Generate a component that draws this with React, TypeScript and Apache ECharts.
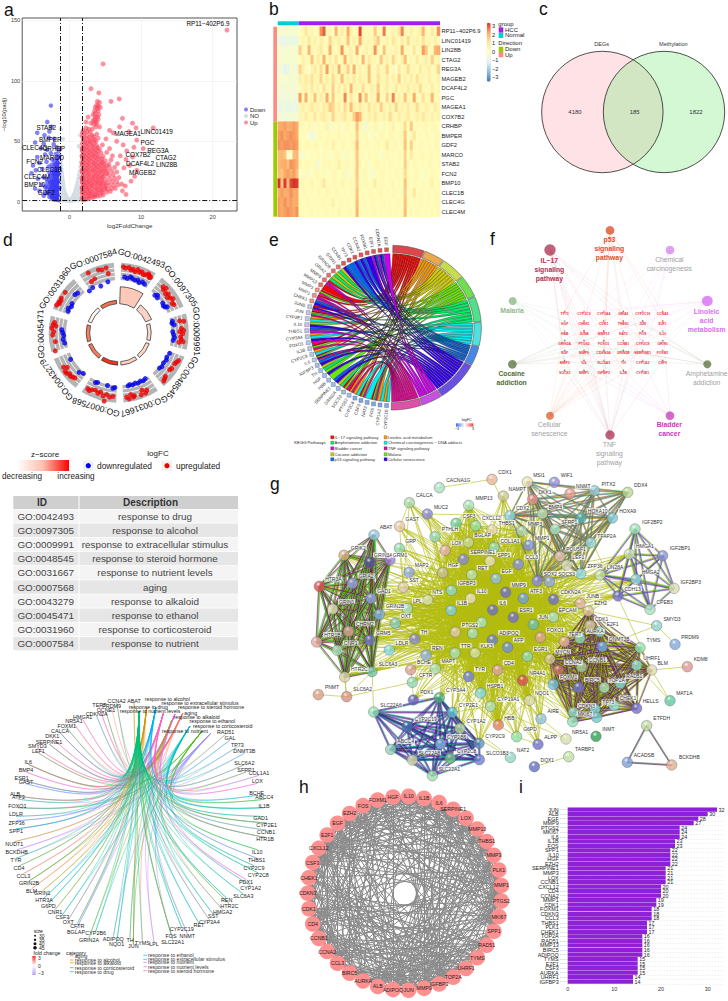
import React, { useEffect, useRef } from "react";
import * as echarts from "echarts";

const FONT = '"Liberation Sans", Arial, sans-serif';

// ---------- a: volcano ----------
const volcanoUp = [[22,142],[4.7,114],[3,93.5],[4.1,90],[3.8,80],[3.9,83],[4.2,82],[3.6,78],[4,75],[3.3,72],[4.1,72],[2.6,70],[3.5,68],[4,68],[2.3,66],[3.7,62],[4.2,62],[3.2,60],[2.7,60],[1.9,59],[2.3,61],[6.95,85],[5.8,83],[7.4,69],[8.8,65],[9.3,61],[11.7,61],[9.4,51],[10.3,44],[5.6,59],[6.1,57],[7,62],[8.3,58],[7.5,47],[8,42],[9,45],[6.6,50],[5.1,52],[7.1,38],[7.9,35],[8.8,37],[8.4,30],[9.4,26],[9.1,21],[7.6,28],[8.6,17],[7.8,13],[7.4,9],[7.9,6],
[1.9,1.5],[2.2,2],[2.5,2.4],[2.8,3],[3.2,3.4],[3.5,4],[3.9,4.6],[4.3,5],[4.7,5.6],[1.85,5.7],[2.3,6],[2.8,6.4],[3.4,6.2],[4,7],[4.6,7.6],[5.2,8],[5.7,8.6],[1.9,9],[2.4,9.4],[2.9,9],[3.5,9.6],[4.1,10],[4.7,9.8],[5.3,10.4],[5.9,10.8],[6.4,11],[1.8,12],[2.2,12.6],[2.7,12.2],[3.2,12.8],[3.8,12.4],[4.4,13],[5,12.8],[5.6,13.4],[6.2,13.6],[6.8,14],[7.3,14.6],[1.9,15],[2.4,15.6],[3,15.2],[3.6,15.8],[4.2,15.4],[4.8,16],[5.4,15.8],[6,16.4],[6.6,16.6],[1.8,18],[2.3,18.4],[2.8,18],[3.3,18.8],[3.9,18.3],[4.5,18.9],[5.1,18.5],[5.7,19],[6.3,19.4],[6.9,20],[1.9,21],[2.5,21.4],[3.1,21],[3.7,21.6],[4.3,21.2],[4.9,21.8],[5.5,22],[6.1,22.4],[1.8,24],[2.3,24.6],[2.9,24.2],[3.5,24.8],[4.1,24.4],[4.7,25],[5.3,25],[5.9,25.4],[6.6,24.6],[1.9,27],[2.5,27.6],[3.1,27.2],[3.7,27.8],[4.3,27.6],[4.9,28],[5.6,28.2],[6.3,28.4],[1.8,30],[2.4,30.4],[3,30.2],[3.6,30.8],[4.2,30.6],[4.8,31.2],[5.5,31],[6.7,31.5],[1.9,33],[2.5,33.4],[3.1,33.2],[3.7,33.8],[4.4,33.4],[5,34],[5.8,34.6],[1.8,36],[2.3,36.6],[2.9,36.2],[3.5,37],[4.1,36.8],[4.7,37.4],[6,38],[1.9,39],[2.5,39.6],[3.1,39.4],[3.7,40],[4.4,40.4],[5.2,40.8],[1.8,42],[2.4,42.6],[3,42.4],[3.6,43],[4.2,43.6],[5.6,44],[1.9,45],[2.5,45.6],[3.2,46],[3.8,46.4],[4.6,47],[1.8,48],[2.4,48.6],[3,49],[3.7,49.6],[1.9,51],[2.6,51.6],[3.3,52],[4,52.6],[1.8,54],[2.4,54.6],[3.1,55],[3.8,56],[2.1,57],[2.9,57.4],[3.4,64],[3.7,66],[3.9,70],[3.6,73],[3.9,77],[4.3,78],[1.75,3],[1.75,8],[1.75,11],[1.75,16],[1.75,20],[1.75,26],[1.75,32],[1.75,38],[1.75,44],[2,4],[2.6,4.6],[3,5],[3.6,5.5],[2.1,7.6],[2.6,8],[3.1,7.8],[3.8,8.2],[4.4,8.8],[2.1,10.6],[2.6,11],[3.2,10.8],[3.8,11],[4.4,11.4],[5,11.2],[2.1,14],[2.6,14.2],[3.2,14],[3.8,14.4],[4.4,14.6],[5,14.4],[2.1,17],[2.7,16.8],[3.3,17],[3.9,17],[4.5,17.2],[2,19.8],[2.7,20],[3.4,20.2],[4,20],[4.6,20.4],
[2.1,22.6],[2.7,22.8],[3.4,23],[4,23],[4.6,23.2],[5.2,23.4],[2.1,25.6],[2.6,26],[3.2,26],[3.8,26.2],[4.4,26],[5,26.6],[2.1,28.8],[2.7,29],[3.4,29.2],[4,29],[4.6,29.6],[5.2,29.8],[2.1,31.8],[2.7,32],[3.4,32],[4,32.2],[4.6,32.6],[2.1,34.8],[2.7,35],[3.3,35.2],[3.9,35.4],[4.5,35.6],[2.1,37.8],[2.7,38],[3.3,38.4],[3.9,38.6],[2.1,40.8],[2.8,41],[3.4,41.4],[4,41.8],[2.1,43.6],[2.7,44],[3.3,44.4],[3.9,44.8],[2.2,47],[2.8,47.4],[3.4,47.8],[2.2,50],[2.9,50.4],[3.5,51],[2.1,53],[2.8,53.4],[3.4,54],[1.8,57],[2.5,58],[3,65],[3.3,67],[3.6,70],[3.8,64.5],[3.5,75],[4,79]];
const volcanoDown = [[-2.6,79.5],[-3.1,66],[-2.5,62],[-2.8,58],[-4.5,57],[-3.5,55],[-2.1,52],[-2.9,53],[-4.8,49],[-2.2,47.5],[-3.6,48],[-3.1,43],[-4,44],[-2.6,40],[-3.4,39],[-4.5,37],[-5.1,30],[-4.2,32],[-3.2,33],[-2.4,35],[-5.3,23.5],[-4.7,26],[-3.8,27],[-2.9,29],[-4.4,19],[-3.6,20],[-4.8,11],[-4.2,9],[-3.9,14],[-3.4,12],[-3.3,7],[-3.6,5],
[-1.35,2],[-1.6,2.4],[-1.9,2.8],[-2.2,3],[-2.5,3.6],[-2.8,4],[-1.35,5],[-1.7,5.4],[-2,5.8],[-2.4,6.2],[-2.8,6.6],[-3.1,7.4],[-1.35,8],[-1.65,8.4],[-2,8.8],[-2.3,9],[-2.7,9.6],[-3.1,10],[-1.35,11],[-1.7,11.4],[-2.05,11.6],[-2.4,12],[-2.8,12.4],[-3.2,13],[-1.35,14],[-1.65,14.4],[-2,14.6],[-2.35,15],[-2.7,15.4],[-3.1,16],[-1.35,17],[-1.7,17.4],[-2.05,17.6],[-2.4,18],[-2.8,18.4],[-3.2,18.8],[-1.35,20],[-1.65,20.4],[-2,20.6],[-2.35,21],[-2.7,21.4],[-1.35,23],[-1.7,23.4],[-2.05,23.6],[-2.4,24],[-2.8,24.4],[-1.35,26],[-1.65,26.4],[-2,26.6],[-2.4,27],[-1.35,29],[-1.7,29.4],[-2.1,29.6],[-2.5,30.5],[-1.35,32],[-1.7,32.5],[-2.1,33],[-1.4,35],[-1.8,36],[-1.4,38],[-1.9,39.4],[-1.5,42],[-1.8,45],
[-1.5,1.2],[-1.8,1.6],[-2.1,1.8],[-2.4,2.2],[-1.5,3.6],[-1.8,4],[-2.1,4.4],[-2.5,5],[-1.5,6.6],[-1.85,7],[-2.2,7.4],[-2.6,7.8],[-1.5,9.6],[-1.85,10],[-2.2,10.2],[-2.6,10.8],[-1.5,12.6],[-1.85,13],[-2.2,13.2],[-2.6,13.8],[-1.5,15.6],[-1.85,16],[-2.2,16.2],[-2.55,16.8],[-1.5,18.6],[-1.85,19],[-2.2,19.2],[-1.5,21.6],[-1.85,22],[-2.2,22.4],[-1.5,24.6],[-1.85,25],[-2.2,25.4],[-1.55,27.6],[-1.9,28],[-1.5,30.6],[-1.95,31],[-1.6,33.6],[-1.6,36.6]];
const volcanoNo = [[-1.2,60],[-0.9,52],[1.5,55],[1.3,46],[-1.2,34],[-1.15,30],[-1.1,27],[-1.05,24],[-1,21],[-0.95,18],[-0.9,16],[-0.85,13.5],[-0.8,11],[-0.7,9],[-0.6,7],[-0.5,5.5],[-0.4,4],[-0.3,2.8],[-0.2,1.8],[-0.1,1],[0,0.6],[0.1,0.9],[0.2,1.6],[0.3,2.4],[0.45,3.6],[0.55,5],[0.7,7],[0.8,9],[0.9,11],[1,13.5],[1.1,16],[1.2,19],[1.3,22],[1.4,25],[1.5,29],[1.6,33],[1.7,38],[1.68,42],[-1.2,26],[-1.2,20],[-1.2,14],[-1.2,8],[-1.2,3],[-1,15],[-1,9],[-1,3],[-0.8,6],[-0.8,2],[-0.6,3],[-0.5,1],[-0.3,0.8],[0.3,0.7],[0.5,1.2],[0.7,3],[0.7,1],[0.9,5],[0.9,2],[1.1,9],[1.1,3],[1.3,13],[1.3,6],[1.3,1.5],[1.5,19],[1.5,11],[1.5,3],[1.7,28],[1.7,18],[1.7,9],[1.7,2],[-1.1,18],[-1.1,6],[-0.9,1]];
const volcanoLabels: [string, number, number][] = [["RP11−402P6.9",19.34,147.6],["STAB2",-3.24,62.1],["BMPER",-2.68,51.7],["CLEC4G",-4.86,45.6],["CRHBP",-2.17,44.7],["MARCO",-2.44,37.3],["FCN2",-4.86,33.7],["CLEC1B",-2.78,27.3],["CLEC4M",-4.53,21.3],["BMP10",-4.86,14.9],["GDF2",-3.24,8.3],["MAGEA1",8.11,56.7],["LINC01419",12.18,58.3],["PGC",10.89,49.7],["REG3A",12.36,43.1],["COX7B2",9.58,39.8],["CTAG2",13.47,37.3],["DCAF4L2",9.86,32.3],["LIN28B",13.57,31.2],["MAGEB2",10.19,24.9]];

// ---------- b: heatmap ----------
const heatGenes = ["RP11−402P6.9","LINC01419","LIN28B","CTAG2","REG3A","MAGEB2","DCAF4L2","PGC","MAGEA1","COX7B2","CRHBP","BMPER","GDF2","MARCO","STAB2","FCN2","BMP10","CLEC1B","CLEC4G","CLEC4M"];
const heatRows = [
[-.3,-.3,-.3,-.2,-.3,-.3,-.3,0,.3,1,.2,.5,0,.3,2.2,2.6,.2,.4,0,1.8,.3,.8,.2,2,.6,0,.3,2.8,.4,.2,.3,.2,1.5,.2,.3,2.4,0,.2,.5,.3,1,2.3,.3,.2,.6,.2,.2,.7,1.8,.2,.2,.9,.3,2.2],
[-.7,-.6,-.7,-.6,-.7,-.6,-.7,.2,.5,.2,1,.3,.6,.2,.7,.3,.1,1.3,.4,.3,.8,.2,.5,1.6,.2,.7,.3,2,.6,.3,.4,.3,.9,1.5,.2,.3,.6,.2,1,.5,.2,.8,.3,1.2,.2,.4,.6,.3,1.1,.3,.5,.2,.6,.3],
[-.3,-.3,-.4,-.3,-.3,-.3,-.3,1.4,.3,.1,1.8,.2,.3,.5,1,.2,.2,1.9,.3,.1,.5,2.2,.2,.3,.6,.3,2,.2,.2,.7,.2,.5,2.2,.3,.1,1.6,.2,.4,.2,.6,.2,2,.2,.3,.2,1,.2,.3,2.1,1.5,.2,.2,1.8,2],
[-.3,-.3,-.3,-.3,-.3,-.3,-.3,.1,.6,.2,.3,1.6,.2,.9,.3,1.9,.2,.7,.2,1.1,.2,.4,1.9,.2,.8,.2,.4,.2,1.8,.2,1,.5,.2,.3,1.5,.2,.7,.2,1.3,.4,.2,.6,1.7,.2,.3,.2,.9,.2,.4,.8,.2,1.4,.3,.5],
[-.5,-.4,-.9,-.7,-.3,-.4,-.5,1.3,.7,.2,-.2,.5,.9,.2,1.2,.1,2.1,.3,.8,.2,1.9,.3,.5,1.4,.2,1.9,.2,.7,.2,.4,1.6,.2,.3,.9,.2,.5,1.3,.2,.3,-.2,.9,.2,.3,1.2,.2,.5,.1,.9,.3,.4,.7,.2,.3,1.3],
[-.3,-.3,-.3,-.3,-.4,-.3,-.3,.7,.3,.9,.5,1.1,.3,.4,1.3,.2,.8,.3,1.2,.5,.2,1.7,.3,.6,.3,1,.2,.8,.4,.3,1.6,.3,.2,1.1,.5,.3,.9,.2,.6,.3,1.4,.2,.6,.3,.8,.2,1.1,.3,.5,.2,.7,.3,.2,.6],
[-.4,-.4,-.4,-.3,-.4,-.4,-.3,.2,.4,.7,.2,1,.3,.6,.2,1.1,.3,.2,1.4,.2,.7,.3,.9,.2,1.8,.3,.5,.2,1.2,.3,.2,.7,.3,1.5,.2,.4,.8,.2,.3,1,.2,.5,.3,.9,.2,.6,.2,1.2,.3,.3,.2,.8,.2,.4],
[-.5,-.4,-.5,-.5,-.4,-.5,-.4,2.1,.3,1.9,.2,.3,1.6,.2,.8,.2,2,.2,1.5,.2,.4,.2,2.3,.2,1,.2,.3,2.2,.2,1.6,.2,.5,.2,2,.3,.2,1.3,.2,2.3,.2,.6,.2,1.6,.2,.3,2,.2,.2,1.1,.2,.4,1.8,.2,.3],
[-.7,-.6,-.6,-.7,-.6,-.6,-.7,.4,.7,.3,.5,1,.4,.6,.3,.8,.5,1.5,1.3,.4,.7,.3,1.2,.5,1.7,.6,.3,.9,.4,.3,1.1,.4,.7,.3,1.4,.5,.3,.8,.3,1.3,.4,.6,.3,.9,.3,.5,1.2,.4,.3,.7,.4,.3,.8,.4],
[-.4,-.4,-.5,-.4,-.4,-.4,-.4,.5,.3,.8,.4,.3,1,.3,.6,.9,.4,.3,1.3,.5,.3,.7,1,.3,.4,1.4,2.1,1.8,.4,.3,.7,.3,1,.4,.3,.6,.3,1.2,.4,.3,.8,.3,.5,.9,.3,.4,.7,.3,1,.4,.3,.6,.3,.5],
[2,2,2.1,1.9,2,2.1,2,.2,.3,.1,.4,.2,-.2,.3,.1,.2,.5,-.4,.2,.1,.3,-.2,.2,.4,.1,.2,1.6,.2,.3,-.5,.2,.1,.4,.2,-.2,.3,.1,.2,.6,.1,.2,.3,1.2,.1,1.5,.2,.3,.1,.2,.4,.1,.2,.3,.1],
[2.1,2.2,2,2.1,2.2,2.1,2,.1,.2,.1,-.3,-.5,-.3,.2,.3,.1,.2,.3,.1,.2,.4,.1,.2,.1,.3,.2,1.4,.1,.2,.3,.1,-.3,.2,.1,.3,.2,.1,.4,.2,.1,.2,.3,1.5,.1,.2,1,.1,.2,.1,.3,.2,.1,.2,.3],
[2.2,2.1,2.2,2.2,2.1,2.2,2.1,.2,.1,.3,.2,.1,.4,.2,.1,.2,.3,.1,.7,.2,.1,.3,.2,.1,.2,.4,1.7,.2,.1,.3,.2,.1,.2,.3,.1,.2,.9,.1,.2,.3,.1,.2,1.6,.1,1.4,.2,.1,.3,.2,.1,.2,.1,.3,.2],
[1.7,1.8,1.6,-.2,-.1,1.7,1.8,-.3,-.2,.1,-.1,.2,.1,.3,-.1,.2,.1,-.2,.1,.3,.2,.1,-.3,.2,.1,.3,1.5,.1,.2,-.1,.3,.1,.2,.1,-.2,.2,.3,.1,.2,.1,.3,.2,1.3,.1,.9,.2,.1,.2,.3,.1,.2,.3,.1,.2],
[1.8,1.9,2,1.7,2.2,2.1,1.9,.2,.1,.3,.2,.1,.2,-.5,.1,.3,.2,.4,.1,.2,.7,.1,.2,.3,.1,.2,1.5,.3,.1,.2,-.3,.1,.2,.4,.1,.2,.1,.3,.2,.1,.2,.1,1.4,.2,.1,.3,.2,.1,.2,.1,.3,.2,.1,.2],
[1.7,1.6,2,2.1,1.9,2.1,1.6,-.2,.1,.2,-.3,.1,.2,.3,.1,.2,-.2,.1,.3,.2,.1,.2,.3,-.3,.1,.2,1.5,.1,.2,.3,.1,-.4,.2,.1,.3,.2,.1,.2,.1,.3,.2,.1,1.2,.2,.1,.2,.3,.1,-.2,.2,.1,.3,.2,.1],
[3,1.6,2.9,1.7,2.8,3,2.9,.2,.3,.1,.2,.4,.1,.2,.3,1,.2,.1,.3,.2,.1,.4,.2,.1,.3,.2,1.4,.1,.2,.3,.1,.2,.8,.1,.3,.2,.1,.2,.3,.1,.2,.1,1.6,.2,.1,.3,.2,.1,.2,.1,.3,.6,.1,.2],
[2,2.1,1.9,2,2.2,2,2,.1,.2,.3,.1,.2,.1,.3,.2,.1,.5,.2,.1,.3,.2,.1,.2,.1,.3,.2,1.6,.1,.2,.1,.3,.2,.1,.2,.4,.1,.2,.1,.3,.2,.1,.2,1.5,.1,.2,1,.1,.3,.2,.1,.2,.1,.3,.2],
[2.1,2,2.2,2,2.1,1.9,2,.2,.1,.2,.3,.1,.2,.1,.2,.3,.1,.2,.6,.1,.2,.3,.1,.2,.1,.3,1.7,.2,.1,.2,.1,.3,.2,.1,.2,.3,.1,.2,.1,.2,.3,.1,1.6,.2,.1,.2,.1,.3,.2,.1,.2,.1,.2,.3],
[2.1,2,2.1,2.2,2.1,2,2.2,.1,.2,.1,.2,.3,.1,.2,.1,.2,.3,.1,.2,.1,.5,.2,.1,.2,.3,.1,1.8,.2,.1,.2,.1,.2,.3,.1,.2,.1,.2,.3,.1,.2,.1,.2,1.7,.1,.2,.1,.3,.2,.1,.2,.1,.2,.1,.3]];
const heatColumnCount = 54;
const groupCounts = [["Normal", 7, "#00CED1"], ["HCC", 47, "#A020F0"]] as const;
const directionCounts = [["Up", 10, "#FF8C80"], ["Down", 10, "#9ACD00"]] as const;
const heatPalette = ["#4575B4","#91BFDB","#E0F3F8","#FFFFBF","#FEE8A0","#FBAA68","#D73027"];
const heatTicks = [3,2,1,0,-1,-2,-3];

// ---------- c: venn ----------
const vennSets = [["DEGs",217,336,"rgba(255,182,193,0.5)"],["Methylation",402,336,"rgba(144,238,144,0.5)"]] as const;
const vennCounts = [["4180",575],["185",634.7],["1822",696]] as const;

// ---------- d: GO circle ----------
const goIds = ["GO:0042493","GO:0097305","GO:0009991","GO:0048545","GO:0031667","GO:0007568","GO:0043279","GO:0045471","GO:0031960","GO:0007584"];
const goDescriptions = ["response to drug","response to alcohol","response to extracellular stimulus","response to steroid hormone","response to nutrient levels","aging","response to alkaloid","response to ethanol","response to corticosteroid","response to nutrient"];
const goBarTop = [46,35.5,32.5,32.5,32.5,32.5,32.5,32.5,32.5,32.5];
const goBarColor = ["#FCC9B8","#FBD3C6","#FCD9CE","#FCD7CB","#FCD2C3","#F0351F","#F47A5C","#F5825F","#FFF4F0","#F2734F"];
const goUp = [[65,6],[66,9],[64,11],[65,13],[63,15],[66,17],[64,19],[65,21],[63,23],[64,25],[66,27],[65,28],[63,29],[64,30],[66,4],
[64,44],[62,46],[65,47],[61,50],[63,52],[60,54],[62,56],[64,58],[61,61],[62,63],
[62,79],[66,80],[63,86],[65,88],[61,89],[64,91],[62,94],[63,96],[65,98],[61,99],
[66,115],[65,117],[64,119],[64,124],[63,126],[65,135],[66,137],[64,133],
[64,154],[66,156],[62,158],[66,160],[65,166],[66,167],[63,169],[67,171],[65,173],
[64,185],[65,188],[63,191],[70,192],[65,194],[62,197],[64,199],[62,202],[63,205],[65,207],[64,209],
[66,232],[63,224],[64,226],[65,228],[64,230],[66,234],[62,236],[65,238],
[66,277],[67,274],[65,271],[66,268],[64,262],[66,254],[65,279],[63,276],
[67,307],[68,294],[67,297],[66,299],[67,301],[66,296],
[67,333],[66,349],[58,332],[66,342],[65,345],[59,336],[60,350]];
const goDown = [[56,6],[55,9],[57,12],[56,14],[55,17],[56,20],[54,22],[56,25],[55,28],
[52,44],[54,46],[52,48],[53,56],[52,59],[53,61],[55,62],
[54,80],[55,78],[56,82],[55,92],[54,89],[56,95],[55,98],
[55,112],[54,117],[55,120],[54,124],[55,128],[54,131],
[53,150],[54,153],[53,156],[54,159],[53,162],[54,165],[53,168],[54,170],
[55,184],[54,192],[56,186],[54,203],[55,205],
[55,241],[56,225],[54,221],
[56,270],[55,267],[56,263],[55,259],[57,273],
[58,311],[55,293],[56,296],[54,299],[55,302],[57,314],
[51,325],[52,348],[50,339],[52,330]];

// ---------- e: chord ----------
const pathways = ["IL−17 signaling pathway","Linoleic acid metabolism","Cocaine addiction","Malaria","Amphetamine addiction","Chemical carcinogenesis − DNA adducts","p53 signaling pathway","Cellular senescence","Bladder cancer","TNF signaling pathway"];
const pathwayFill = ["#FF0000","#FF9900","#CCCC00","#66EE00","#00EE66","#00EEEE","#0066EE","#3300EE","#CC00EE","#EE0099"];
const pathwayRing = ["#E0454C","#E8A94E","#C8DC50","#6EE050","#50E08C","#50E0E0","#4A86E8","#6A50E0","#C850E0","#E050A8"];
const pathwayEnds = [21.3,35,51.6,67.4,85.8,103,117,145.9,160,180];
const chordGenes: [string, number[]][] = [["EGF",[8]],["CDKN2A",[6,7,8]],["E2F1",[6,7,8]],["FOXM1",[7]],["CCNA2",[6,7]],["CDK1",[6,7]],["TP73",[6]],["CCNB1",[6,7]],["GRIN1",[2,4]],["GRIN2B",[2,4]],["GRIA2",[2,4]],["MMP9",[0,8,9]],["MMP13",[0]],["MMP3",[0,3,9]],["MMP1",[0,8,9]],["CHEK1",[6,7]],["JUNB",[0,9,7]],["JUN",[0,2,4,9]],["CYP2E1",[1,5]],["IL10",[3,7]],["THBS1",[6,8]],["CYP3A4",[1,5]],["FOXO1",[9,7]],["IL1B",[0,3,9]],["CYP2C9",[1,5]],["IL6",[0,7,3,9]],["IGFBP3",[6,7]],["TH",[2,4]],["HGF",[3,7]],["HBB",[3]],["SERPINE1",[6,7]],["GRIN2A",[2,4]],["SOCS3",[0,3,9]],["PTGS2",[0,1,9]],["CYP2C8",[1,5]],["CSF3",[0,3,9]],["NAT2",[5]],["FOS",[0,2,4,9]],["CYP1A2",[1,5]],["CYP2C19",[1,5]]];
const chordGeneFC = [3,3,2.8,2.8,2.7,2.7,2.6,2.6,2.5,2.5,2.4,2.3,2.2,2,1.8,1.6,-1,-1,-1.1,-1.1,-1.2,-1.2,-1.3,-1.3,-1.4,-1.4,-1.5,-1.5,-1.6,-1.6,-1.7,-1.7,-1.8,-1.8,-1.9,-2,-2,-2.1,-2.2,-2.3];

// ---------- f: gene–pathway network ----------
const fGeneRows = [["TP73","CYP2C9","CYP3A4","GRIA2","CYP2C19","CCNA2"],["HGF","CHEK1","CDK1","THBS1","JUN","E2F1"],["HBB","JUNB","MMP13","NAT2","FOS","IL10"],["GRIN2A","PTGS2","FOXO1","CCNB1","CYP2C8","GRIN1"],["EGF","MMP9","CDKN2A","GRIN2B","SERPINE1","FOXM1"],["MMP3","IL6","SLC6A3","TH","CYP1A2","CSF3"],["SOCS3","MMP1","IGFBP3","IL1B","CYP2E1"]];
const fGeneX = [914,972,1031,1090,1148,1208];
const fGeneY = [268,297,327,356,385,415,445];
const fNodes: [string[], number, number, number, string, string, boolean, number, number][] = [
[["IL−17","signaling","pathway"],870,75,17,"#B03A5B","#B0304F",true,105,0],
[["Linoleic","acid","metabolism"],1342,228,16,"#D66EF0","#D96BF5",true,259,1],
[["Cocaine","addiction"],757,418,13,"#5F7745","#4F6B33",true,446,2],
[["Malaria"],758,228,12,"#8FB887","#8FB887",true,256,3],
[["Amphetamine","addiction"],1342,418,12,"#5F7745","#A0A0A0",false,446,4],
[["Chemical","carcinogenesis"],1230,75,13,"#D88AEE","#A0A0A0",false,102,5],
[["p53","signaling","pathway"],1050,16,13,"#DD5528","#E8461E",true,43,6],
[["Cellular","senescence"],870,572,12,"#DD6633","#A0A0A0",false,599,7],
[["Bladder","cancer"],1230,572,13,"#CC44BB","#D030C0",true,599,8],
[["TNF","signaling","pathway"],1050,630,14,"#B03A5B","#A0A0A0",false,657,9]];

// ---------- g: STRING network ----------
const gNodes: [string, number, number, string, number, number][] = [
["CDX1",636,28,"#E8B89A",675,6],["CACNA1G",478,53,"#A8E0C0",535,31],["MSI1",742,36,"#E8E4B0",777,15],["WIF1",823,37,"#9090D8",860,15],["NAMPT",670,78,"#C8C890",712,57],["DKK1",758,88,"#E89090",795,66],["NNMT",870,71,"#E89888",910,49],["PITX2",943,62,"#90C8D8",985,41],["DDX4",1043,67,"#B8D890",1082,45],["CALCA",388,98,"#A8D8A8",433,76],["MUC2",442,132,"#8888D0",483,110],["MMP13",566,106,"#A8E0B8",612,85],["CDX2",690,137,"#90D8D8",728,114],["BMP4",787,131,"#B8E0A8",826,110],["HOXA10",903,144,"#50B0B0",953,122],["HOXA9",997,144,"#80C8D8",1043,122],["IGF2BP2",1065,177,"#98E0B8",1117,155],["ABAT",282,195,"#90C8D8",318,172],["GAST",359,169,"#E8C8A8",397,147],["CSF3",528,160,"#70D0A0",567,137],["CXCL12",587,167,"#98E0A8",634,145],["THBS1",636,180,"#E8D8B0",680,158],["MMP3",725,183,"#A8D0B8",765,161],["SFRP1",825,178,"#A8E0C0",868,156],["PTHLH",465,200,"#90D8B0",510,178],["BGLAP",565,217,"#C8D890",608,196],["COL1A1",642,232,"#90D8C8",690,212],["MMP1",746,226,"#8090E0",787,204],["TFAP2A",932,218,"#90D8E0",980,197],["POU5F1",840,259,"#E8C0B0",888,237],["LEF1",860,285,"#D8D8B0",895,262],["GRP",358,235,"#90D8A8",392,213],["LOX",495,241,"#E8B0B0",530,219],["GRIK2",192,256,"#D8B080",235,233],["GRIN3A",269,277,"#5050A0",310,255],["GRM1",330,270,"#A080E0",360,255],["SERPINE1",550,268,"#8888D8",608,247],["SPP1",630,273,"#E8E0B8",672,254],["HMGA1",1048,252,"#C8E0A8",1095,229],["IGF2BP1",1148,257,"#8890D8",1200,235],["CCL3",715,283,"#8890E0",755,261],["MAP2",387,307,"#90A8E0",425,285],["HGF",488,308,"#C8C090",520,286],["RET",575,314,"#B8E0B0",608,293],["SOX2",772,333,"#8888E0",811,311],["SOCS3",808,335,"#90A8E0",860,311],["ZFP36",902,311,"#90D8E0",945,288],["LIN28A",960,315,"#C8E0B0",1005,291],["HMGA2",1068,328,"#90D8E0",1112,306],["IGF2BP3",1182,355,"#D8E0B0",1232,335],["EGF",648,326,"#90C0E0",680,304],["GRIA2",217,340,"#90A0E0",258,318],["HTR3A",118,349,"#E05050",160,327],["SST",370,352,"#E0C8A8",402,331],["IGFBP3",514,361,"#90D8C8",560,339],["MMP9",677,367,"#7070D0",716,344],["ATF3",730,385,"#70A0E0",768,363],["CDKN2A",821,388,"#7070D0",872,367],["JUNB",900,400,"#E0B0A0",938,379],["GAD1",273,385,"#90A0E0",312,363],["NTS",443,390,"#D8E0B0",472,367],["LPL",382,416,"#A8E0C0",412,392],["IL10",572,385,"#E8E0B8",605,364],["IL1B",513,421,"#80D0E0",546,399],["IL6",638,420,"#7070C0",668,398],["ESR1",700,442,"#7070C8",738,420],["CDH13",1014,378,"#7070D0",1058,356],["CPEB3",1110,418,"#A8E0C0",1154,397],["EZH2",925,423,"#E0C8A0",962,400],["EPCAM",820,441,"#A8E0C0",863,420],["GRIN1",158,417,"#E0E0B0",200,395],["GRIN2B",298,433,"#80B0E0",345,409],["OXT",346,460,"#80C8B8",378,438],["CHRM2",206,484,"#D8A090",255,461],["PTGS2",526,486,"#E0C8A8",570,465],["FOS",605,457,"#A8E0C0",0,0],["SLPI",578,490,"#A8E0B8",0,0],["JUN",760,463,"#70C0B0",790,441],["CDK1",930,466,"#D8C8A0",965,447],["E2F1",960,485,"#90D0C0",998,463],["SMYD3",1130,467,"#90D0D0",1176,446],["PRDM9",1185,523,"#80A8E0",1230,502],["GRM5",269,510,"#7070C8",310,489],["HTR1B",110,516,"#E8A8A0",157,494],["CNR1",172,541,"#A8E0B8",212,519],["TH",404,507,"#8888D0",432,486],["LDLR",328,540,"#80D8E0",366,518],["ADIPOQ",637,510,"#7080D0",687,488],["AFP",683,532,"#7090E0",716,510],["FOXO1",781,502,"#E0A090",826,480],["TERT",853,515,"#E8B0A0",885,492],["AURKA",900,505,"#90D8C0",945,484],["DNMT3B",967,530,"#70A8E0",1018,507],["TYMS",1080,533,"#90E0B0",1120,511],["REN",438,555,"#90B0E0",472,533],["TTR",525,549,"#A8E0B8",557,527],["KLK3",585,549,"#D0E0A0",620,527],["EGR1",742,559,"#90D8B0",782,537],["MYCN",810,567,"#D8C890",848,545],["UHRF1",1070,586,"#90E0D0",1115,564],["BLM",1115,600,"#E0E0A0",1148,578],["KDM8",1222,590,"#E09898",1262,568],["SLC6A3",276,605,"#70C0A0",324,583],["HTR2C",194,621,"#D8D0A0",238,598],["BCHE",392,599,"#D8A090",432,577],["MAPT",466,596,"#A8E0B8",505,574],["CD4",653,600,"#E0A0A0",686,578],["CCNB1",905,591,"#A8D0A0",952,570],["CCNA2",835,600,"#D07060",880,577],["TYR",566,620,"#7080E0",600,598],["CFTR",397,637,"#90D8B0",437,615],["NR4A1",728,631,"#D85050",772,609],["FOXM1",820,643,"#70C0E0",866,621],["BIRC5",895,652,"#7070D0",937,629],["TOP2A",973,653,"#A8E0B0",1010,631],["RAD51",1021,640,"#80D8D0",1063,619],["PNMT",115,674,"#D8A080",156,652],["SLC6A2",200,680,"#D89080",248,657],["PDX1",400,690,"#6060C0",440,667],["CYP3A4",478,683,"#50B080",527,661],["HSPB1",602,669,"#80D8E0",645,647],["MAT1A",1170,692,"#60C8A0",1213,670],["NQO1",748,691,"#D8D8A8",786,669],["CYP19A1",632,709,"#A8E0B0",685,688],["CYP2E1",517,727,"#60C0D0",565,704],["CDKN3",880,727,"#90D8C8",920,707],["TP73",945,718,"#80D8E0",985,696],["CHEK1",1002,707,"#90E0D0",1044,684],["HELLS",1070,715,"#7070D0",1112,693],["PLK1",950,742,"#70C8D0",0,0],["SLC22A6",281,726,"#90E0B0",333,704],["AIRE",783,746,"#90C0E0",820,724],["MKI67",878,755,"#90E0B8",915,732],["CYP2C19",381,769,"#4070B0",437,747],["HBB",655,765,"#E08060",688,743],["CYP1A2",540,775,"#B0D890",588,753],["G6PD",710,800,"#90E0A0",750,778],["ETFDH",1100,767,"#C0D8A0",1145,745],["INMT",948,799,"#30A050",985,777],["NR5A1",858,807,"#D8E0B0",900,785],["ALPP",774,823,"#7070D0",812,801],["CYP2C9",597,820,"#6090C0",645,798],["CYP2B6",482,822,"#80B0E0",530,800],["ABCC4",332,838,"#90D0B8",377,814],["NAT2",691,862,"#90D8C8",729,839],["TARBP1",866,860,"#C0E0A0",914,838],["DQX1",763,890,"#6070C0",802,869],["SLC22A8",397,870,"#D8D8A8",448,848],["CYP2C8",511,865,"#70C080",560,844],["SLCO1B3",598,869,"#7080D0",652,848],["ACADSB",1042,877,"#80A0D8",1092,856],["BCKDHB",1175,885,"#D8B090",1228,861],["SLC22A1",457,917,"#A0E0B0",508,896]];
const gCentralModule = ["IL6","IL10","IL1B","JUN","EGF","ESR1","MMP9","HGF","PTGS2","FOXO1","ADIPOQ","TTR","CD4","EGR1","MMP3","MMP1","SERPINE1","CCL3","IGFBP3","SPP1","THBS1","BGLAP","COL1A1","CXCL12","CSF3","CDKN2A","MAPT","HSPB1","TYR","AFP","EPCAM","ATF3","NR4A1","LPL","MYCN","NQO1","LOX","SLPI","FOS","RET","TH","MMP13","HBB"];
const gHubs = ["IL6","JUN","EGF","ESR1","PTGS2","MMP9","IL1B","CDKN2A","FOXO1","TTR"];
const gHubTargets = ["GRIK2","GRIN1","GRIA2","GRIN2B","GRM5","CHRM2","HTR1B","HTR3A","CNR1","GAD1","SLC6A3","HTR2C","SST","GRP","GAST","CALCA","PTHLH","MUC2","MAP2","OXT","LDLR","REN","BCHE","CFTR","NTS","PDX1","CYP3A4","CYP2E1","CYP1A2","CYP2C9","CYP19A1","G6PD","AIRE","ALPP","CDK1","AURKA","CCNB1","CCNA2","FOXM1","BIRC5","TOP2A","RAD51","CHEK1","TP73","BLM","MKI67","DNMT3B","EZH2","E2F1","TYMS","CDKN3","TERT","SFRP1","DKK1","BMP4","SOX2","POU5F1","LEF1","ZFP36","SOCS3","JUNB","LIN28A","HMGA1","HMGA2","CDH13","NAMPT","CDX2","TFAP2A","HOXA9"];
const gCycleModule = ["CDK1","AURKA","CCNB1","CCNA2","FOXM1","BIRC5","TOP2A","RAD51","CHEK1","TP73","UHRF1","BLM","HELLS","PLK1","MKI67","DNMT3B","EZH2","E2F1","MYCN","TYMS","CDKN3","TERT"];
const gNeuroModule = ["GRIK2","GRIN3A","GRIA2","GRIN1","GRIN2B","GRM5","CHRM2","HTR1B","HTR3A","CNR1","GAD1","SLC6A3","HTR2C","ABAT","GRM1"];
const gCypModule = ["CYP2C19","CYP2E1","CYP1A2","CYP2B6","CYP2C9","CYP2C8","ABCC4","SLC22A8","SLC22A1","SLC22A6","SLCO1B3","CYP3A4"];
const gStemModule = ["IGF2BP1","IGF2BP2","IGF2BP3","HMGA1","HMGA2","LIN28A","CPEB3","CDH13"];
const gHomeoModule = ["HOXA9","HOXA10","CDX2","PITX2","TFAP2A","SOX2","POU5F1","LEF1","SFRP1","DKK1","BMP4","ZFP36","DDX4","MSI1"];
const gTriangleModule = ["ETFDH","ACADSB","BCKDHB"];
const gBridgeEdges = ["CDX1-CACNA1G","CALCA-GAST","CALCA-SST","MUC2-CDX2","KDM8-BLM","PNMT-SLC6A2","PRDM9-SMYD3","SMYD3-EZH2","SMYD3-DNMT3B","MAT1A-BLM","MAT1A-UHRF1","DQX1-TARBP1","NAT2-CYP1A2","NAT2-CYP2E1","NR5A1-AIRE","NR5A1-CYP19A1","ALPP-G6PD","SLC6A2-SLC6A3","SLC6A2-HTR2C","PDX1-CFTR","PDX1-CYP3A4","BCHE-MAPT","BCHE-CFTR","CFTR-TTR","OXT-CHRM2","OXT-TH","LDLR-ADIPOQ","LDLR-TH","SST-GAD1","GAST-SST","GRP-SST","MAP2-MAPT","MAP2-GRIN1","NAMPT-MMP3","NAMPT-IL6","CDX1-CDX2","WIF1-DKK1","NNMT-BLM","MSI1-CDX2","DKK1-THBS1","BMP4-CDKN2A","PTHLH-BGLAP","CYP19A1-ESR1","HBB-G6PD","HBB-MAPT","JUNB-JUN","JUNB-CDK1","EPCAM-LIN28A","EPCAM-SOX2","CDKN2A-CDK1","CDKN2A-E2F1","EZH2-CDKN2A","EZH2-HMGA2","CCNB1-CDKN2A","AIRE-CD4","KLK3-CYP3A4","CYP2E1-CYP19A1","SLC6A2-CFTR","SLC6A3-SLC22A6","HTR2C-SLC6A2","SLC22A6-CYP2C19"];
const gStrands = [["#B4BC10"],["#8B1A9B","#333333","#9AC400"],["#A020A0","#1A1A1A","#B8C800","#20A040"],["#2020D0","#A020A0","#111111","#20B0B0"],["#A020C0","#2040D0","#30A050","#B0C000"],["#B4BC10","#A020A0","#30A060"],["#20A040","#A020A0","#222222"]];

// ---------- h & i: hub genes ----------
const hCycleModule = ["PLK1","MKI67","RAD51","TYMS","UHRF1","TOP2A","AURKA","BIRC5","CCNA2","CCNB1","CDK1","CDKN3","CHEK1","E2F1","EZH2","FOXM1"];
const hImmuneModule = ["MMP1","PTGS2","SPP1","IGFBP3","MMP9","JUN","ADIPOQ","ALB","CCL3","CD4","CSF3","CXCL12","EGF","FOS","HGF","IL10","IL1B","IL6","SERPINE1","LOX","MMP13","THBS1","MMP3"];
const hOrder = ["PTGS2","MKI67","SPP1","RAD51","TYMS","UHRF1","TOP2A","IGFBP3","MMP9","JUN","ADIPOQ","ALB","AURKA","BIRC5","CCL3","CCNA2","CCNB1","CD4","CDK1","CDKN3","CHEK1","CSF3","CXCL12","E2F1","EGF","EZH2","FOS","FOXM1","HGF","IL10","IL1B","IL6","SERPINE1","LOX","MMP13","THBS1","MMP3","PLK1","MMP1"];
const hBridge = [["JUN","CDK1"],["JUN","E2F1"],["ALB","CCNB1"],["EGF","AURKA"],["EGF","CDK1"],["MMP9","CCNA2"],["MKI67","IL6"],["CD4","CCNB1"],["EZH2","JUN"],["PTGS2","CDK1"],["ALB","TOP2A"],["SPP1","TOP2A"],["IL10","CHEK1"],["MMP1","RAD51"],["EGF","FOXM1"],["FOS","CCNA2"],["IGFBP3","UHRF1"],["ALB","PLK1"],["JUN","TYMS"],["PTGS2","EZH2"]];
const barGenes = ["JUN","ALB","EGF","MMP9","PTGS2","MKI67","IL6","IL1B","FOS","SPP1","IL10","HGF","EZH2","SERPINE1","MMP3","LOX","CCNB1","CXCL12","CD4","CCNA2","MMP1","CDK1","FOXM1","CDKN3","CCL3","THBS1","PLK1","CHEK1","TOP2A","RAD51","MMP13","BIRC5","ADIPOQ","TYMS","E2F1","CSF3","AURKA","UHRF1","IGFBP3"];
const barValues = [32,30,28,27,24,24,24,23,23,22,22,22,22,21,21,21,21,20,20,20,19,19,18,18,18,17,17,17,16,16,16,16,16,15,15,15,15,14,14];

// ---------- bottom-left: GO term network ----------
const termNames = ["aging","response to alcohol","response to alkaloid","response to corticosteroid","response to drug","response to ethanol","response to extracellular stimulus","response to nutrient","response to nutrient levels","response to steroid hormone"];
const termColors = ["#F8766D","#D89000","#A3A500","#39B600","#00BF7D","#00BFC4","#00B0F6","#9590FF","#E76BF3","#FF62BC"];
const termAnchors = [[548,190],[440,172],[515,212],[605,245],[418,185],[570,228],[468,172],[632,250],[525,192],[490,190]];
const termLabels: [number, number, number][] = [[572,190,0],[502,148,1],[590,202,2],[668,228,3],[445,171,4],[637,214,5],[600,159,6],[555,243,7],[450,184,8],[633,172,9]];
const netGenes: [string, number, number, number[]][] = [["CCNA2",350,153,[0,4]],["ABAT",402,153,[2,1]],["TERT",298,166,[0,9]],["PRDM9",335,168,[0]],["CCNE1",318,180,[0,4]],["CDKN2A",290,192,[0,6]],["HMGA1",248,202,[0,8]],["NR5A1",222,214,[0,9]],["FOXM1",200,227,[0,4]],["CALCA",180,242,[0,9,6]],["DKK1",157,259,[0,8]],["SERPINE1",147,276,[0,9,4]],["SMYD3",112,289,[0,8]],["LEF1",115,303,[9,3]],["IL6",85,337,[3,4,9,0]],["BMP4",78,360,[9,8]],["ESR1",65,383,[9,8,4]],["GAST",78,395,[8,6]],["ALB",45,431,[9,4,0]],["ATF3",55,442,[7,4]],["FOXO1",52,467,[3,9,5]],["LDLR",48,493,[7,4]],["ZFP36",50,518,[8,6]],["SPP1",48,543,[8,4,6]],["NUDT1",43,581,[2,0]],["BCKDHB",50,606,[7,8]],["TYR",48,631,[7,4]],["CD4",57,654,[1,4]],["CCL3",70,677,[1,9]],["GRIN2B",87,699,[1,2,4]],["BLM",95,722,[1,0]],["GRIN1",127,729,[1,2]],["HTR3A",132,750,[6,5]],["G6PD",145,767,[6,4]],["CNR1",165,785,[4,1]],["CSF3",187,801,[5,4]],["OXT",205,815,[4,9]],["CFTR",232,827,[1,4]],["BGLAP",228,845,[6,8]],["CYP2B6",287,850,[4,5]],["GRIN2A",267,869,[2,4]],["ADIPOQ",340,866,[7,4]],["NQO1",350,882,[6,4]],["TH",390,869,[2,5]],["JUN",400,889,[3,4,1]],["TYMS",427,878,[0,4]],["LPL",462,882,[7,8]],["SLC22A1",518,875,[4,7]],["FOS",513,857,[4,1]],["NNMT",562,857,[4,8]],["CYP2C19",545,838,[4,5]],["RET",597,826,[4,6]],["CYP3A4",628,815,[4,9]],["SST",640,799,[4,5]],["HMGA2",668,785,[4,0]],["HTR2C",688,768,[4,2]],["REN",680,750,[6,4]],["SLC6A3",730,738,[4,5]],["CYP1A2",752,713,[7,4]],["PDX1",738,695,[8,9]],["CYP2C8",775,675,[5,4]],["CYP2C9",762,653,[5,4]],["THBS1",770,630,[9,6]],["IL10",772,605,[3,4]],["HTR1B",795,568,[3,4,9]],["CCNB1",798,546,[8,4]],["CYP2E1",800,525,[5,4,1]],["GAD1",782,505,[4,5]],["IL1B",792,467,[6,5,4]],["ABCC4",793,442,[4,3]],["BCHE",770,430,[5,6]],["LOX",772,394,[9,8]],["COL1A1",777,370,[9,7]],["SFRP1",738,360,[8,3]],["SLC6A2",733,338,[9,4]],["DNMT3B",733,304,[4,7]],["TP73",712,284,[4,7]],["GAL",690,264,[7,5]],["RAD51",677,247,[2,7]]];

// ---------- helpers ----------
const T = (x: number, y: number, text: string, fontSize: number, o: any = {}) => ({
  type: "text", x, y, z: o.z ?? 100, silent: true, rotation: ((o.rot || 0) * Math.PI) / 180,
  style: { text, fontSize, fontFamily: FONT, fill: o.c || "#222", fontWeight: o.w || "normal", align: o.a || "left", textAlign: o.a || "left", verticalAlign: "middle", textVerticalAlign: "middle", backgroundColor: o.bg, padding: o.bg ? [0, 1] : undefined },
});
const R = (x: number, y: number, width: number, height: number, fill: any, o: any = {}) => ({
  type: "rect", z: o.z ?? 99, silent: true, shape: { x, y, width, height }, style: { fill, stroke: o.stroke, lineWidth: o.lw ?? 1 },
});
const hGrad = (stops: string[]) => new echarts.graphic.LinearGradient(0, 0, 1, 0, stops.map((color, i) => ({ offset: i / (stops.length - 1), color })));
const vGrad = (stops: string[]) => new echarts.graphic.LinearGradient(0, 0, 0, 1, stops.map((color, i) => ({ offset: i / (stops.length - 1), color })));

function pairs(list: string[]) {
  const out: [string, string][] = [];
  list.forEach((a, i) => list.slice(i + 1).forEach((b) => out.push([a, b])));
  return out;
}

function buildOption() {
  const grids: any[] = [], xAxis: any[] = [], yAxis: any[] = [], series: any[] = [], g: any[] = [];
  const local = (left: number, top: number, w: number, h: number) => {
    const i = grids.length;
    grids.push({ left, top, width: w, height: h, show: false });
    xAxis.push({ gridIndex: i, type: "value", min: 0, max: w * 3, show: false });
    yAxis.push({ gridIndex: i, type: "value", min: 0, max: h * 3, inverse: true, show: false });
    return i;
  };

  // panel letters
  ([["a",4,10],["b",269,9],["c",539,9],["d",3,240],["e",269,240],["f",490,239],["g",270,484],["h",299,787],["i",519,787]] as [string,number,number][]).forEach(([t,x,y]) => g.push(T(x,y,t,17.5,{c:"#111"})));

  // a — volcano
  grids.push({ left: 20.7, top: 18, width: 216.3, height: 193, show: true, borderColor: "#555", borderWidth: 1, backgroundColor: "#fff" });
  xAxis.push({ gridIndex: 0, type: "value", min: -6.6, max: 23.4, name: "log2FoldChange", nameLocation: "middle", nameGap: 11, nameTextStyle: { fontSize: 6.2, fontFamily: FONT, color: "#333" }, axisLine: { show: false }, axisTick: { show: false, customValues: [0, 10, 20] }, axisLabel: { customValues: [0, 10, 20], fontSize: 5.6, fontFamily: FONT, color: "#444", margin: 3 }, splitLine: { lineStyle: { color: "#EEE", width: 0.6 } } });
  yAxis.push({ gridIndex: 0, type: "value", min: -7.7, max: 152, name: "−log10(padj)", nameLocation: "middle", nameGap: 14, nameTextStyle: { fontSize: 6, fontFamily: FONT, color: "#333" }, axisLine: { show: false }, axisTick: { show: false, customValues: [0, 50, 100, 150] }, axisLabel: { customValues: [0, 50, 100, 150], fontSize: 5.6, fontFamily: FONT, color: "#444", margin: 2 }, splitLine: { lineStyle: { color: "#EEE", width: 0.6 } } });
  const sc = (name: string, data: number[][], color: string, op: number, size: number) => ({ type: "scatter", name, xAxisIndex: 0, yAxisIndex: 0, data, symbolSize: size, itemStyle: { color, opacity: op }, silent: true });
  series.push(sc("Down", volcanoDown, "#3434F4", 0.62, 4.6), sc("NO", volcanoNo, "#D3DCE3", 0.95, 4.2), sc("Up", volcanoUp, "#FB3F5A", 0.58, 4.9));
  series.push({ type: "scatter", xAxisIndex: 0, yAxisIndex: 0, symbolSize: 0, data: volcanoLabels.map((l) => ({ value: [l[1], l[2]], label: { show: true, formatter: l[0] } })), label: { position: "top", distance: -3.5, fontSize: 6.4, fontFamily: FONT, color: "#000", opacity: 1 }, silent: true, z: 6,
    markLine: { silent: true, symbol: "none", label: { show: false }, lineStyle: { color: "#000", type: [5, 2, 1, 2], width: 0.9 }, data: [{ xAxis: -1.25 }, { xAxis: 1.75 }, { yAxis: 1.3 }] } });

  // b — heatmap
  const hi = grids.length;
  grids.push({ left: 277.7, top: 26.7, width: 162.3, height: 190, show: false });
  xAxis.push({ gridIndex: hi, type: "category", data: Array.from({ length: heatColumnCount }, (_, i) => String(i)), show: false });
  yAxis.push({ gridIndex: hi, type: "category", data: heatGenes, inverse: true, position: "right", axisLine: { show: false }, axisTick: { show: false }, axisLabel: { fontSize: 5.8, fontFamily: FONT, color: "#222", margin: 1.5 } });
  const heatIdx = series.length;
  series.push({ type: "heatmap", xAxisIndex: hi, yAxisIndex: hi, progressive: 0, silent: true, data: heatRows.flatMap((row, r) => row.map((v, c) => [c, r, v])) });
  const ti = grids.length;
  grids.push({ left: 277.7, top: 21.3, width: 162.3, height: 4, show: false });
  xAxis.push({ gridIndex: ti, type: "value", min: 0, max: heatColumnCount, show: false });
  yAxis.push({ gridIndex: ti, type: "category", data: ["group"], show: false });
  groupCounts.forEach(([n, v, c]) => series.push({ type: "bar", name: n, stack: "grp", xAxisIndex: ti, yAxisIndex: ti, data: [v], barWidth: "100%", itemStyle: { color: c }, silent: true }));
  const li = grids.length;
  grids.push({ left: 273.3, top: 26.7, width: 3.7, height: 190, show: false });
  xAxis.push({ gridIndex: li, type: "category", data: ["dir"], show: false });
  yAxis.push({ gridIndex: li, type: "value", min: 0, max: 20, inverse: true, show: false });
  directionCounts.forEach(([n, v, c]) => series.push({ type: "bar", name: n, stack: "dir", xAxisIndex: li, yAxisIndex: li, data: [v], barWidth: "100%", itemStyle: { color: c }, silent: true }));
  heatTicks.forEach((t, i) => g.push(T(492, 26 + i * 8.5, String(t).replace("-", "−"), 5.6)));
  g.push(T(498.3, 24, "group", 6));
  groupCounts.slice().reverse().forEach(([n, , c], i) => { g.push(R(498.7, 27.3 + i * 5.35, 4.6, 5.35, c)); g.push(T(505, 30 + i * 5.35, n, 6)); });
  g.push(T(498.3, 43.3, "Direction", 6));
  directionCounts.slice().reverse().forEach(([n, , c], i) => { g.push(R(498.7, 46.7 + i * 5.3, 4.6, 5.3, c)); g.push(T(505, 49.3 + i * 5.3, n, 6)); });

  // c — venn
  const vi = local(530, 0, 198, 225);
  series.push({ type: "scatter", xAxisIndex: vi, yAxisIndex: vi, silent: true, symbolSize: 121.4, data: vennSets.map((s) => ({ value: [s[1], s[2]], itemStyle: { color: s[3] } })) });
  series.push({ type: "scatter", xAxisIndex: vi, yAxisIndex: vi, silent: true, symbolSize: 121.4, data: vennSets.map((s) => [s[1], s[2]]), itemStyle: { color: "rgba(0,0,0,0)", borderColor: "#111", borderWidth: 0.9 } });
  g.push(T(601.7, 43.7, "DEGs", 5.6, { a: "center", c: "#333" }), T(673.3, 43.7, "Methylation", 5.6, { a: "center", c: "#333" }));
  vennCounts.forEach(([t, x]) => g.push(T(x, 111.7, t, 6, { a: "center", c: "#333" })));

  // d — GO circle
  const polar = { center: [118.7, 332.7], radius: 70 };
  const goBands = goIds.map((_, i) => [2 + i * 36, 32 + i * 36]);
  const goSector = (a0: number, a1: number, r0: number, r1: number, coord: any) => {
    const k = coord.r / 70;
    return { cx: coord.cx, cy: coord.cy, r0: r0 * k, r: r1 * k, startAngle: ((a0 - 90) * Math.PI) / 180, endAngle: ((a1 - 90) * Math.PI) / 180, clockwise: true };
  };
  series.push({ type: "custom", coordinateSystem: "polar", silent: true, z: 2, data: goBands, renderItem: (p: any, api: any) => {
    const a0 = api.value(0), a1 = api.value(1);
    const arcs = [56.5, 60.5, 64.8].map((r) => ({ type: "arc", shape: { cx: p.coordSys.cx, cy: p.coordSys.cy, r: (r * p.coordSys.r) / 70, startAngle: ((a0 - 90) * Math.PI) / 180, endAngle: ((a1 - 90) * Math.PI) / 180, clockwise: true }, style: { stroke: "#fff", lineWidth: 0.9, fill: "none" } }));
    return { type: "group", children: [{ type: "sector", shape: goSector(a0, a1, 52.7, 70, p.coordSys), style: { fill: "#B4B4B4" } }, ...arcs] };
  } });
  series.push({ type: "custom", coordinateSystem: "polar", silent: true, z: 2, data: goBands.map((b, i) => [b[0], b[1], goBarTop[i]]), renderItem: (p: any, api: any) => ({ type: "sector", shape: goSector(api.value(0), api.value(1), 29, api.value(2), p.coordSys), style: { fill: goBarColor[p.dataIndex], stroke: "#222", lineWidth: 0.7 } }) });
  series.push({ type: "scatter", coordinateSystem: "polar", silent: true, symbolSize: 5, z: 3, data: goDown, itemStyle: { color: "#0000EE" } });
  series.push({ type: "scatter", coordinateSystem: "polar", silent: true, symbolSize: 5, z: 4, data: goUp, itemStyle: { color: "#EE0000" } });
  goIds.forEach((id, i) => {
    const a = 17 + i * 36, rad = (a * Math.PI) / 180;
    g.push(T(118.7 + 78 * Math.sin(rad), 332.7 - 78 * Math.cos(rad), id, 8.6, { a: "center", rot: -a, c: "#111" }));
  });
  g.push(T(45, 454, "z−score", 8, { a: "center" }), R(16.7, 460, 52.3, 11, hGrad(["#FFFFFF", "#FFC0AE", "#FF0000"])), T(22, 476, "decreasing", 8.2, { a: "center" }), T(76, 476, "increasing", 8.2, { a: "center" }), T(158, 453, "logFC", 8, { a: "center" }));
  g.push(R(83, 460.5, 10.5, 10.5, "#F2F2F2"), R(161.5, 460.5, 10.5, 10.5, "#F2F2F2"));
  g.push({ type: "circle", z: 100, silent: true, shape: { cx: 88.3, cy: 465.7, r: 2.6 }, style: { fill: "#0000EE" } }, { type: "circle", z: 100, silent: true, shape: { cx: 167, cy: 465.7, r: 2.6 }, style: { fill: "#EE0000" } });
  g.push(T(97, 465.5, "downregulated", 8.4), T(176, 465.5, "upregulated", 8.4));

  // table
  g.push(R(13.3, 496, 65.2, 13, "#CFCFCF"), R(79.5, 496, 158.5, 13, "#CFCFCF"), T(42, 502.6, "ID", 10, { a: "center", w: "bold", c: "#333" }), T(150.5, 502.6, "Description", 10, { a: "center", w: "bold", c: "#333" }));
  goIds.forEach((id, i) => {
    const y = 509.4 + i * 14.17, f = i % 2 ? "#E6E6E6" : "#F4F4F4";
    g.push(R(13.3, y, 65.2, 13.4, f), R(79.5, y, 158.5, 13.4, f));
    g.push(T(45.7, y + 6.9, id, 9.9, { a: "center", c: "#444" }), T(155, y + 6.9, goDescriptions[i], 9.9, { a: "center", c: "#444" }));
  });

  // e — chord
  const ei = local(260, 225, 240, 240);
  const CX = 394, CY = 308;
  const ell = (aDeg: number, rx: number, ry: number) => { const a = (aDeg * Math.PI) / 180; return [CX + rx * Math.sin(a), CY - ry * Math.cos(a)]; };
  const pStart = (p: number) => (p === 0 ? 1 : pathwayEnds[p - 1] + 0.6);
  const pathwayCounts = pathways.map((_, p) => chordGenes.filter((c) => c[1].includes(p)).length);
  const used = pathways.map(() => 0);
  const gw = 178 / chordGenes.length;
  const ribbons: number[][] = [];
  chordGenes.forEach((c, gi) => { const sorted = c[1].slice().sort((x, y) => x - y); sorted.forEach((p, k) => { ribbons.push([gi, p, k, sorted.length, used[p]++]); }); });
  ribbons.sort((a, b) => a[1] - b[1]);
  series.push({ type: "custom", xAxisIndex: ei, yAxisIndex: ei, silent: true, z: 3, data: ribbons, renderItem: (_p: any, api: any) => {
    const gi = api.value(0), p = api.value(1), k = api.value(2), n = api.value(3), slot = api.value(4);
    const gTop = 359 - gi * gw, w = (gw * 0.94) / n;
    const G0 = api.coord(ell(gTop - k * w, 244, 222)), G1 = api.coord(ell(gTop - (k + 1) * w, 244, 222));
    const s = pStart(p), e = pathwayEnds[p], pw = (e - s) / pathwayCounts[p];
    const P0 = api.coord(ell(s + slot * pw, 244, 222)), P1 = api.coord(ell(s + (slot + 0.9) * pw, 244, 222));
    const C = api.coord([CX, CY]);
    const d = `M${G0[0]} ${G0[1]}Q${C[0]} ${C[1]} ${P1[0]} ${P1[1]}L${P0[0]} ${P0[1]}Q${C[0]} ${C[1]} ${G1[0]} ${G1[1]}Z`;
    return { type: "path", shape: { pathData: d }, style: { fill: pathwayFill[p], stroke: "#1a1a1a", lineWidth: 0.35 } };
  } });
  series.push({ type: "custom", xAxisIndex: ei, yAxisIndex: ei, silent: true, z: 4, data: pathways.map((_, p) => [pStart(p), pathwayEnds[p]]), renderItem: (p: any, api: any) => {
    const a0 = api.value(0), a1 = api.value(1), pts: number[][] = [];
    for (let a = a0; a < a1; a += 1.5) pts.push(api.coord(ell(a, 270, 247)));
    pts.push(api.coord(ell(a1, 270, 247)));
    for (let a = a1; a > a0; a -= 1.5) pts.push(api.coord(ell(a, 248, 225)));
    pts.push(api.coord(ell(a0, 248, 225)));
    return { type: "polygon", shape: { points: pts }, style: { fill: pathwayRing[p.dataIndex], stroke: "#555", lineWidth: 0.6 } };
  } });
  series.push({ type: "custom", xAxisIndex: ei, yAxisIndex: ei, silent: true, z: 4, data: chordGeneFC.map((v, i) => [359 - (i + 0.5) * gw, v]), renderItem: (p: any, api: any) => {
    const a = api.value(0), v = api.value(1), c = api.coord(ell(a, 254, 234));
    const col = v > 0 ? (v > 2.5 ? "#E85050" : v > 2 ? "#EE6A64" : "#F49080") : v > -1.5 ? "#B4CDF2" : v > -1.9 ? "#9DBEEE" : "#7EA8EA";
    return { type: "rect", shape: { x: c[0] - 2, y: c[1] - 2, width: 4, height: 4 }, style: { fill: col, stroke: "#666", lineWidth: 0.4 } };
  } });
  chordGenes.forEach((c, i) => {
    const a = 359 - (i + 0.5) * gw, [x, y] = ell(a, 268, 246);
    g.push(T(260 + x / 3, 225 + y / 3, c[0], 4.4, { a: "right", rot: 270 - a, c: "#333" }));
  });
  g.push(T(310, 442, "KEGG Pathways", 4.2, { a: "center" }));
  const legendOrder = [[0, 4, 8, 2, 6], [1, 5, 9, 3, 7]];
  const legendY = [437.3, 442.7, 448.3, 454.3, 459.3];
  legendOrder.forEach((col, ci) => col.forEach((p, i) => {
    const sx = ci ? 384 : 330.7;
    g.push(R(sx, legendY[i] - 1.6, 3.2, 3.2, pathwayFill[p], { stroke: "#555", lw: 0.3 }), T(sx + 3.9, legendY[i], pathways[p], 4.1, { c: "#333" }));
  }));
  g.push(T(466.7, 419.7, "logFC", 3.8, { a: "center" }), R(456, 423.3, 17.3, 3.4, hGrad(["#3B6FF0", "#FFFFFF", "#F04040"])), T(457, 428.6, "−3", 3.6, { a: "center" }), T(473, 428.6, "3", 3.6, { a: "center" }));

  // f — network
  const fi = local(260, 225, 468, 245);
  const fPos: Record<string, number[]> = {};
  fGeneRows.forEach((row, r) => row.forEach((n, c) => { fPos[n] = [fGeneX[c], fGeneY[r]]; }));
  const fEdges: number[][] = [];
  fNodes.forEach((nd, ni) => chordGenes.forEach((c) => { if (c[1].includes(nd[8]) && fPos[c[0]]) fEdges.push([nd[1], nd[2], fPos[c[0]][0], fPos[c[0]][1] - 8, ni]); }));
  series.push({ type: "custom", xAxisIndex: fi, yAxisIndex: fi, silent: true, z: 2, data: fEdges, renderItem: (_p: any, api: any) => {
    const a = api.coord([api.value(0), api.value(1)]), b = api.coord([api.value(2), api.value(3)]);
    return { type: "line", shape: { x1: a[0], y1: a[1], x2: b[0], y2: b[1] }, style: { stroke: fNodes[api.value(4)][4], opacity: 0.1, lineWidth: 0.8 } };
  } });
  series.push({ type: "scatter", xAxisIndex: fi, yAxisIndex: fi, silent: true, z: 3, data: fNodes.map((n) => ({ value: [n[1], n[2]], symbolSize: (n[3] * 2) / 3, itemStyle: { color: n[4] } })) });
  series.push({ type: "scatter", xAxisIndex: fi, yAxisIndex: fi, silent: true, z: 3, symbolSize: 1.6, data: Object.keys(fPos).map((n) => { const c = chordGenes.find((x) => x[0] === n); return { value: [fPos[n][0], fPos[n][1] - 9], itemStyle: { color: c ? fNodes.find((f) => f[8] === c[1][0])![4] : "#7A5" } }; }) });
  fNodes.forEach((n) => n[0].forEach((line, i) => g.push(T(260 + (n[1] - 2) / 3, 225 + (n[7] + i * 27.7) / 3, line, 6.8, { a: "center", c: n[5], w: n[6] ? "bold" : "normal" }))));
  Object.keys(fPos).forEach((n) => g.push(T(260 + fPos[n][0] / 3, 225 + fPos[n][1] / 3, n, 3.4, { a: "center", c: "#F0303C", w: "bold" })));

  // g — STRING network
  const gi = local(280, 470, 448, 340);
  const gMap: Record<string, any> = {};
  gNodes.forEach((n) => { gMap[n[0]] = n; });
  const gEdges: number[][] = [];
  const addEdges = (list: [string, string][], style: number) => list.forEach(([a, b]) => { if (gMap[a] && gMap[b]) gEdges.push([gMap[a][1], gMap[a][2], gMap[b][1], gMap[b][2], style]); });
  addEdges(gHubs.flatMap((h) => gHubTargets.map((t) => [h, t] as [string, string])), 0);
  addEdges(pairs(gCentralModule), 0);
  addEdges(gBridgeEdges.map((e) => e.split("-") as [string, string]), 0);
  addEdges(pairs(gHomeoModule), 5);
  addEdges(pairs(gStemModule), 4);
  addEdges(pairs(gNeuroModule), 2);
  addEdges(pairs(gCycleModule), 1);
  addEdges(pairs(gCypModule), 3);
  addEdges(pairs(gTriangleModule), 6);
  series.push({ type: "custom", xAxisIndex: gi, yAxisIndex: gi, silent: true, z: 2, data: gEdges, renderItem: (_p: any, api: any) => {
    const a = api.coord([api.value(0), api.value(1)]), b = api.coord([api.value(2), api.value(3)]);
    const st = gStrands[api.value(4)], dx = b[0] - a[0], dy = b[1] - a[1], L = Math.hypot(dx, dy) || 1;
    const nx = -dy / L, ny = dx / L;
    return { type: "group", children: st.map((c, i) => {
      const o = (i - (st.length - 1) / 2) * 0.55;
      return { type: "line", shape: { x1: a[0] + nx * o, y1: a[1] + ny * o, x2: b[0] + nx * o, y2: b[1] + ny * o }, style: { stroke: c, lineWidth: st.length > 1 ? 0.55 : 0.6 } };
    }) };
  } });
  series.push({ type: "scatter", xAxisIndex: gi, yAxisIndex: gi, silent: true, z: 3, symbolSize: 10.5, data: gNodes.map((n) => ({ value: [n[1], n[2]], itemStyle: { color: new echarts.graphic.RadialGradient(0.4, 0.3, 0.75, [{ offset: 0, color: "#F4F4F4" }, { offset: 0.3, color: n[3] }, { offset: 1, color: n[3] }]), borderColor: "#666", borderWidth: 0.5 } })) });
  gNodes.forEach((n) => { if (n[4]) g.push(T(280 + n[4] / 3, 470 + n[5] / 3, n[0], 5, { a: "center", c: "#333", bg: "rgba(255,255,255,0.8)" })); });

  // h — circular hub network
  const hLinks: any[] = [];
  const hSkip = (a: string, b: string) => { const d = Math.abs(hOrder.indexOf(a) - hOrder.indexOf(b)); return Math.min(d, hOrder.length - d); };
  [...pairs(hCycleModule), ...pairs(hImmuneModule), ...hBridge].forEach(([a, b]) => { if (hSkip(a, b) < 19) hLinks.push({ source: a, target: b }); });
  series.push({ type: "graph", layout: "circular", left: 307.7, top: 796.3, width: 194, height: 194, z: 2, silent: true, symbolSize: 15.6, roam: false,
    data: hOrder.map((name) => ({ name })), links: hLinks, itemStyle: { color: "#FF9090" }, lineStyle: { color: "#8A8A8A", width: 1, opacity: 1, curveness: 0 },
    label: { show: true, position: "inside", fontSize: 5.2, fontFamily: FONT, color: "#222" }, emphasis: { disabled: true } });

  // i — bars
  const bi = grids.length;
  grids.push({ left: 567.7, top: 807.3, width: 156.3, height: 176.7, show: false });
  xAxis.push({ gridIndex: bi, type: "value", min: 0, max: 33.5, interval: 10, axisLine: { show: false }, axisTick: { show: false }, splitLine: { show: false }, axisLabel: { fontSize: 5.4, fontFamily: FONT, color: "#333", margin: 2, formatter: (v: number) => (v % 10 === 0 ? String(v) : "") } });
  yAxis.push({ gridIndex: bi, type: "category", inverse: true, data: barGenes, axisLine: { show: false }, axisTick: { show: true, alignWithLabel: true, length: 8, lineStyle: { type: "dotted", color: "#BBB", width: 0.7 } }, splitLine: { show: true, lineStyle: { type: [1, 2], color: "#DADADA", width: 0.6 } }, axisLabel: { interval: 0, fontSize: 5.4, fontFamily: FONT, color: "#222", margin: 9 } });
  series.push({ type: "bar", xAxisIndex: bi, yAxisIndex: bi, data: barValues, silent: true, barCategoryGap: "6%", itemStyle: { color: "#8E20D8" }, label: { show: true, position: "right", distance: 1.5, fontSize: 5.4, fontFamily: FONT, color: "#222" } });

  // bottom-left — GO term circular network
  const ni = local(0, 650, 280, 351);
  const netEdges: number[][] = [];
  netGenes.forEach((ng) => ng[3].forEach((t) => netEdges.push([ng[1], ng[2] + (ng[2] > 500 ? -6 : 6), termAnchors[t][0], termAnchors[t][1], t])));
  series.push({ type: "custom", xAxisIndex: ni, yAxisIndex: ni, silent: true, z: 2, data: netEdges, renderItem: (_p: any, api: any) => {
    const gx = api.value(0), gy = api.value(1), tx = api.value(2), ty = api.value(3);
    const cx = 405, cy = 490;
    const a = api.coord([gx, gy]), b = api.coord([tx, ty]);
    const c1 = api.coord([cx + (gx - cx) * 0.22, cy + (gy - cy) * 0.22]);
    const c2 = api.coord([cx + (tx - cx) * 0.18, cy + (ty - cy) * 0.18]);
    return { type: "bezierCurve", shape: { x1: a[0], y1: a[1], x2: b[0], y2: b[1], cpx1: c1[0], cpy1: c1[1], cpx2: c2[0], cpy2: c2[1] }, style: { stroke: termColors[api.value(4)], lineWidth: 0.75, fill: "none", opacity: 0.55 } };
  } });
  netGenes.forEach((ng) => g.push(T(ng[1] / 3, 650 + ng[2] / 3, ng[0], 5.4, { a: "center", c: "#222" })));
  termLabels.forEach(([x, y, t]) => g.push(T(x / 3, 650 + y / 3, termNames[t], 5.2, { a: "center", c: "#222" })));
  g.push(T(38.3, 931, "size", 5.2, { a: "center" }));
  ["30", "35", "40", "45"].forEach((t, i) => {
    g.push({ type: "circle", z: 100, silent: true, shape: { cx: 35, cy: 935.7 + i * 4, r: 0.9 + i * 0.3 }, style: { fill: "#111" } });
    g.push(T(39, 935.7 + i * 4, t, 5));
  });
  g.push(T(47, 953, "fold change", 5.2, { a: "center" }), R(32.3, 956, 3.4, 19, vGrad(["#FF2A2A", "#FFFFFF", "#B59CFF"])), T(38, 958, "3", 5), T(38, 965.5, "0", 5), T(38, 973, "−3", 5));
  g.push(T(76, 952.5, "category", 5.2, { a: "center" }));
  const legY = [[955.7, 960, 962.7, 967.7, 971.7], [955.3, 959.3, 962.3, 966.7, 970.7]];
  termNames.forEach((n, i) => {
    const col = i < 5 ? 0 : 1, y = legY[col][i % 5], x = col ? 143.3 : 70;
    g.push({ type: "line", z: 100, silent: true, shape: { x1: x, y1: y, x2: x + 3.6, y2: y }, style: { stroke: termColors[i], lineWidth: 0.7 } });
    g.push(T(x + 4.7, y, n, 5.2, { c: "#333" }));
  });

  return {
    animation: false,
    backgroundColor: "#fff",
    grid: grids,
    xAxis,
    yAxis,
    polar,
    angleAxis: { min: 0, max: 360, startAngle: 90, clockwise: true, show: false },
    radiusAxis: { min: 0, max: 70, show: false },
    legend: { data: ["Down", "NO", "Up"], orient: "vertical", left: 244, top: 106.5, itemWidth: 4, itemHeight: 4, itemGap: 0.5, icon: "circle", padding: 0, textStyle: { fontSize: 6, fontFamily: FONT, color: "#222", padding: [0, 0, 0, -3] }, selectedMode: false },
    visualMap: { type: "continuous", seriesIndex: heatIdx, min: -3, max: 3, calculable: false, left: 486.7, top: 22.7, itemWidth: 4, itemHeight: 59, padding: 0, inRange: { color: heatPalette } },
    series,
    graphic: { elements: g },
  };
}

export default function App() {
  const ref = useRef<HTMLDivElement>(null);
  useEffect(() => {
    document.body.style.margin = "0";
    const chart = echarts.init(ref.current!, null, { renderer: "svg" });
    chart.setOption(buildOption() as any);
    return () => chart.dispose();
  }, []);
  return <div ref={ref} style={{ position: "absolute", left: 0, top: 0, width: 728, height: 1001 }} />;
}
